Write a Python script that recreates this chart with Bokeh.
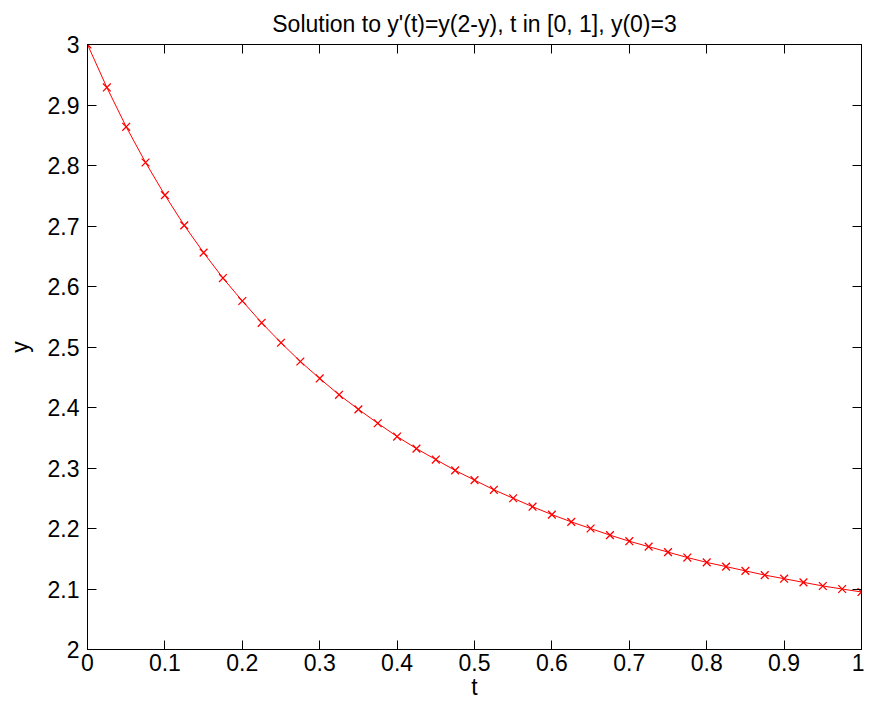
from bokeh.plotting import figure
from bokeh.models import Range1d, LinearAxis, FixedTicker
from bokeh.embed import file_html
from bokeh.resources import INLINE

# data
t_vals = [0.000, 0.025, 0.050, 0.075, 0.100, 0.125, 0.150, 0.175, 0.200, 0.225,
          0.250, 0.275, 0.300, 0.325, 0.350, 0.375, 0.400, 0.425, 0.450, 0.475,
          0.500, 0.525, 0.550, 0.575, 0.600, 0.625, 0.650, 0.675, 0.700, 0.725,
          0.750, 0.775, 0.800, 0.825, 0.850, 0.875, 0.900, 0.925, 0.950, 0.975, 1.000]
y_vals = [3.000, 2.929, 2.864, 2.805, 2.751, 2.701, 2.656, 2.614, 2.576, 2.540,
          2.507, 2.476, 2.448, 2.421, 2.397, 2.374, 2.352, 2.332, 2.314, 2.296,
          2.280, 2.264, 2.250, 2.236, 2.223, 2.211, 2.200, 2.189, 2.179, 2.170,
          2.161, 2.152, 2.144, 2.137, 2.130, 2.123, 2.117, 2.111, 2.105, 2.100, 2.095]

x_ticks = [0, 0.1, 0.2, 0.3, 0.4, 0.5, 0.6, 0.7, 0.8, 0.9, 1.0]
x_tick_labels = ["0", "0.1", "0.2", "0.3", "0.4", "0.5", "0.6", "0.7", "0.8", "0.9", "1"]
y_ticks = [2, 2.1, 2.2, 2.3, 2.4, 2.5, 2.6, 2.7, 2.8, 2.9, 3.0]
y_tick_labels = ["2", "2.1", "2.2", "2.3", "2.4", "2.5", "2.6", "2.7", "2.8", "2.9", "3"]

title_text = "Solution to y'(t)=y(2-y), t in [0, 1], y(0)=3"
x_label = "t"
y_label = "y"

FONT = "Liberation Sans"
TICK_FS = "23px"

p = figure(width=864, height=702, output_backend="svg", toolbar_location=None,
           x_range=Range1d(0, 1), y_range=Range1d(2, 3),
           min_border_left=87, min_border_right=3, min_border_top=43, min_border_bottom=0)
p.background_fill_color = "white"
p.border_fill_color = "white"
p.outline_line_color = "black"
p.outline_line_width = 1
p.grid.visible = False

p.title.text = title_text
p.title.align = "center"
p.title.text_font = FONT
p.title.text_font_size = "23px"
p.title.text_font_style = "normal"
p.title.text_color = "black"
p.title.standoff = 16

def style_axis(ax, ticks, labels, show_labels=True):
    ax.ticker = FixedTicker(ticks=ticks)
    ax.major_label_overrides = {tk: lb for tk, lb in zip(ticks, labels)}
    ax.major_tick_in = 9
    ax.major_tick_out = 0
    ax.minor_tick_line_color = None
    ax.major_tick_line_color = "black"
    ax.major_tick_line_width = 1
    ax.axis_line_color = "black"
    ax.axis_line_width = 1
    ax.major_label_text_font = FONT
    ax.major_label_text_color = "black"
    ax.axis_label_text_font = FONT
    ax.axis_label_text_font_style = "normal"
    ax.axis_label_text_color = "black"
    if show_labels:
        ax.major_label_text_font_size = TICK_FS
        ax.axis_label_text_font_size = TICK_FS
    else:
        ax.major_label_text_font_size = "0px"
        ax.major_label_standoff = 0

xa = p.xaxis[0]
ya = p.yaxis[0]
style_axis(xa, x_ticks, x_tick_labels)
style_axis(ya, y_ticks, y_tick_labels)
xa.axis_label = x_label
ya.axis_label = y_label
xa.major_label_standoff = 4
ya.major_label_standoff = 8
xa.axis_label_standoff = 0
ya.axis_label_standoff = 12

top_ax = LinearAxis()
style_axis(top_ax, x_ticks, ["" for _ in x_ticks], show_labels=False)
p.add_layout(top_ax, "above")
right_ax = LinearAxis()
style_axis(right_ax, y_ticks, ["" for _ in y_ticks], show_labels=False)
p.add_layout(right_ax, "right")

p.line(t_vals, y_vals, line_color="red", line_width=1)
p.scatter(t_vals, y_vals, marker="x", size=11, line_color="red", line_width=1.3)

open("out.html", "w").write(file_html(p, INLINE))
